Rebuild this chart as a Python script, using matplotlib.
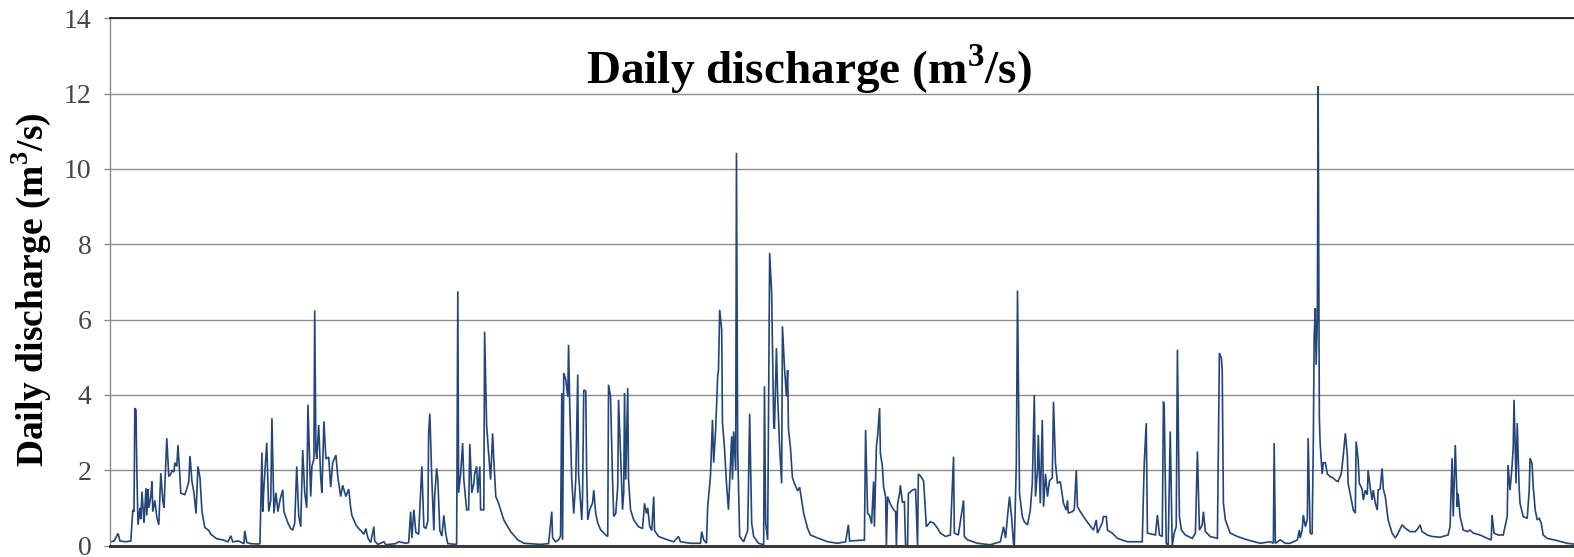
import matplotlib
matplotlib.use("Agg")
import matplotlib.pyplot as plt

SERIF = "Liberation Serif"
LINE_BLUE = "#24457a"
GRID_GREY = "#8c8c8c"

plt.rcParams["mathtext.fontset"] = "custom"
plt.rcParams["mathtext.rm"] = SERIF
plt.rcParams["mathtext.bf"] = SERIF + ":bold"

# day number from start of record and daily discharge (m3/s)
day = [
    2, 10, 20, 25, 40, 52, 57, 60, 62, 65, 67, 70, 75, 77, 80,
    85, 90, 92, 95, 97, 102, 105, 107, 112, 117, 122, 127, 132, 135, 142,
    147, 152, 155, 160, 162, 167, 170, 175, 177, 187, 192, 197, 200, 205, 210,
    215, 220, 225, 230, 237, 247, 252, 267, 282, 295, 302, 307, 322, 335, 337,
    342, 352, 370, 375, 380, 382, 385, 392, 397, 402, 405, 410, 415, 420, 425,
    432, 435, 445, 452, 457, 462, 467, 472, 477, 482, 487, 492, 495, 500, 502,
    505, 510, 512, 515, 517, 522, 527, 530, 535, 540, 547, 552, 557, 565, 570,
    577, 582, 590, 597, 602, 605, 615, 622, 627, 635, 640, 645, 652, 657, 660,
    662, 670, 685, 690, 715, 722, 740, 747, 752, 755, 760, 765, 772, 780, 785,
    790, 795, 797, 800, 805, 810, 812, 817, 820, 825, 830, 835, 840, 845, 865,
    867, 870, 872, 877, 882, 885, 892, 897, 900, 905, 910, 912, 917, 920, 925,
    927, 935, 937, 942, 947, 952, 957, 960, 965, 972, 985, 1002, 1020, 1035, 1077,
    1097, 1105, 1107, 1115, 1122, 1127, 1130, 1132, 1135, 1140, 1145, 1147, 1150, 1155, 1160,
    1165, 1170, 1172, 1180, 1182, 1185, 1190, 1192, 1195, 1200, 1207, 1210, 1215, 1220, 1227,
    1240, 1245, 1247, 1252, 1257, 1260, 1265, 1270, 1272, 1277, 1282, 1285, 1287, 1290, 1295,
    1297, 1302, 1310, 1322, 1332, 1337, 1342, 1345, 1350, 1355, 1360, 1362, 1372, 1395, 1410,
    1422, 1427, 1452, 1477, 1480, 1485, 1492, 1495, 1502, 1507, 1510, 1515, 1520, 1522, 1525,
    1530, 1532, 1537, 1542, 1547, 1555, 1557, 1560, 1565, 1567, 1570, 1575, 1585, 1595, 1597,
    1600, 1605, 1610, 1622, 1635, 1637, 1640, 1645, 1650, 1655, 1660, 1662, 1667, 1670, 1675,
    1680, 1682, 1687, 1692, 1695, 1697, 1702, 1707, 1712, 1720, 1725, 1730, 1735, 1745, 1752,
    1770, 1795, 1820, 1840, 1847, 1850, 1877, 1887, 1890, 1895, 1900, 1905, 1910, 1912, 1917,
    1920, 1925, 1927, 1932, 1935, 1940, 1942, 1945, 1952, 1960, 1965, 1967, 1970, 1975, 1977,
    1982, 1987, 1990, 1995, 1997, 2007, 2015, 2020, 2022, 2027, 2035, 2042, 2052, 2060, 2070,
    2077, 2090, 2102, 2110, 2112, 2122, 2135, 2137, 2145, 2170, 2202, 2227, 2235, 2240, 2245,
    2250, 2255, 2260, 2262, 2267, 2270, 2275, 2282, 2287, 2295, 2302, 2307, 2312, 2315, 2320,
    2322, 2327, 2332, 2335, 2340, 2345, 2350, 2357, 2360, 2365, 2370, 2377, 2385, 2392, 2395,
    2397, 2407, 2412, 2417, 2420, 2427, 2435, 2447, 2460, 2467, 2470, 2482, 2485, 2492, 2495,
    2507, 2520, 2545, 2582, 2587, 2592, 2595, 2615, 2620, 2625, 2632, 2635, 2637, 2642, 2647,
    2652, 2657, 2662, 2667, 2670, 2675, 2680, 2690, 2707, 2715, 2720, 2725, 2732, 2735, 2740,
    2752, 2770, 2775, 2780, 2782, 2785, 2790, 2802, 2820, 2845, 2877, 2902, 2910, 2912, 2915,
    2927, 2940, 2952, 2970, 2975, 2977, 2982, 2985, 2990, 2995, 2997, 3002, 3007, 3010, 3012,
    3015, 3017, 3020, 3022, 3025, 3027, 3032, 3035, 3040, 3045, 3052, 3060, 3067, 3072, 3080,
    3085, 3090, 3095, 3097, 3102, 3110, 3115, 3117, 3122, 3125, 3132, 3135, 3140, 3145, 3147,
    3152, 3157, 3160, 3165, 3170, 3172, 3177, 3182, 3185, 3190, 3197, 3207, 3215, 3222, 3232,
    3240, 3252, 3265, 3272, 3277, 3282, 3295, 3307, 3327, 3347, 3352, 3357, 3360, 3365, 3370,
    3372, 3377, 3385, 3395, 3402, 3410, 3427, 3445, 3455, 3457, 3462, 3472, 3485, 3495, 3497,
    3502, 3507, 3510, 3512, 3517, 3520, 3525, 3527, 3535, 3545, 3550, 3552, 3557, 3560, 3565,
    3570, 3575, 3580, 3585, 3595, 3620, 3645, 3660,
]

discharge = [
    0.10, 0.12, 0.32, 0.12, 0.10, 0.12, 0.94, 0.90, 3.65, 3.60, 2.00, 0.55, 1.00, 0.70, 1.43,
    0.60, 1.52, 0.80, 1.50, 1.00, 1.30, 1.70, 0.90, 1.20, 0.75, 0.55, 1.92, 1.20, 1.00, 2.85,
    1.83, 1.90, 2.00, 1.95, 2.20, 2.10, 2.67, 1.80, 1.39, 1.35, 1.50, 1.70, 2.38, 1.70, 1.40,
    0.85, 2.10, 1.80, 0.90, 0.48, 0.40, 0.30, 0.18, 0.15, 0.10, 0.26, 0.10, 0.12, 0.05, 0.39,
    0.08, 0.05, 0.04, 0.05, 2.47, 0.90, 1.56, 2.73, 0.90, 1.20, 3.38, 0.86, 1.40, 0.90, 1.20,
    1.48, 0.90, 0.60, 0.45, 0.41, 0.60, 2.10, 0.80, 0.50, 2.54, 1.40, 1.00, 3.74, 2.00, 1.30,
    2.10, 2.30, 6.24, 2.50, 2.30, 3.20, 1.80, 1.40, 3.30, 2.30, 2.35, 1.55, 2.20, 2.40, 1.80,
    1.30, 1.60, 1.30, 1.50, 1.00, 0.80, 0.55, 0.45, 0.40, 0.30, 0.45, 0.20, 0.08, 0.35, 0.50,
    0.12, 0.03, 0.10, 0.02, 0.05, 0.10, 0.06, 0.08, 0.90, 0.20, 0.95, 0.35, 0.30, 2.10, 0.50,
    0.45, 0.65, 2.98, 3.50, 1.75, 0.40, 1.30, 2.05, 1.75, 0.40, 0.25, 0.80, 0.30, 0.05, 0.03,
    0.04, 6.75, 1.40, 1.90, 2.72, 1.75, 0.95, 0.95, 2.70, 1.40, 1.65, 1.90, 2.10, 1.40, 2.10,
    0.95, 0.95, 5.68, 3.20, 2.45, 1.75, 2.98, 2.27, 1.30, 1.12, 0.68, 0.37, 0.15, 0.06, 0.03,
    0.05, 0.90, 0.20, 0.10, 0.15, 0.25, 4.05, 0.15, 4.58, 4.40, 3.95, 5.33, 3.70, 1.75, 0.85,
    1.75, 4.54, 1.90, 0.68, 1.30, 4.13, 4.10, 2.10, 0.68, 0.95, 1.13, 1.47, 0.85, 0.60, 0.42,
    0.28, 0.24, 4.27, 3.96, 1.75, 0.77, 0.85, 1.56, 3.87, 2.45, 0.95, 1.40, 4.05, 1.75, 4.18,
    1.75, 0.95, 0.68, 0.50, 0.45, 1.12, 0.85, 1.00, 0.50, 0.40, 1.30, 0.40, 0.24, 0.15, 0.10,
    0.24, 0.10, 0.06, 0.06, 0.37, 0.15, 0.06, 1.03, 1.85, 3.34, 2.20, 3.10, 4.50, 4.66, 6.26,
    5.73, 3.25, 2.60, 1.65, 0.95, 2.90, 1.75, 3.03, 2.00, 10.43, 2.54, 0.24, 0.10, 0.40, 1.57,
    3.50, 0.60, 0.24, 0.06, 0.02, 4.23, 0.60, 0.15, 7.77, 6.70, 3.25, 3.10, 5.24, 3.96, 2.60,
    1.65, 5.82, 4.75, 3.96, 4.66, 3.10, 2.60, 1.80, 1.65, 1.45, 1.55, 1.20, 0.86, 0.45, 0.28,
    0.20, 0.10, 0.06, 0.10, 0.55, 0.12, 0.14, 0.14, 3.07, 0.86, 0.80, 0.58, 1.70, 0.50, 2.63,
    2.90, 3.65, 2.45, 2.10, 1.56, 1.30, 0.00, 1.30, 1.10, 0.95, 0.90, 0.00, 1.10, 1.38, 1.60,
    1.15, 1.16, 0.00, 0.00, 1.38, 1.47, 1.50, 0.00, 1.90, 1.85, 1.72, 0.50, 0.63, 0.60, 0.46,
    0.33, 0.24, 0.28, 2.36, 0.33, 0.28, 1.20, 0.24, 0.15, 0.06, 0.02, 0.10, 0.50, 0.20, 0.77,
    1.30, 0.77, 0.06, 0.00, 2.18, 6.77, 1.38, 0.77, 0.63, 0.55, 0.94, 1.65, 4.00, 1.30, 2.00,
    2.94, 1.12, 3.34, 1.03, 1.90, 1.30, 1.72, 1.80, 3.82, 2.18, 1.65, 1.70, 1.12, 0.94, 1.20,
    0.86, 0.90, 0.95, 2.00, 1.03, 0.90, 0.77, 0.59, 0.41, 0.68, 0.33, 0.60, 0.77, 0.77, 0.41,
    0.33, 0.19, 0.10, 0.10, 2.18, 3.25, 0.33, 0.28, 0.81, 0.28, 0.24, 3.82, 3.69, 0.06, 0.00,
    3.03, 0.00, 0.33, 0.50, 5.20, 0.77, 0.41, 0.28, 0.19, 0.33, 2.50, 0.41, 0.55, 0.90, 0.37,
    0.24, 0.19, 5.11, 4.98, 4.67, 1.12, 0.68, 0.33, 0.24, 0.15, 0.06, 0.10, 0.06, 2.72, 0.06,
    0.15, 0.06, 0.06, 0.15, 0.41, 0.20, 0.41, 0.81, 0.50, 0.70, 2.85, 0.33, 0.30, 2.81, 5.55,
    6.30, 4.80, 6.00, 12.20, 3.40, 2.72, 1.90, 2.20, 2.20, 1.90, 1.83, 1.79, 1.72, 1.70, 1.92,
    2.40, 2.98, 2.40, 1.65, 1.38, 0.94, 0.86, 2.76, 2.30, 1.65, 1.50, 1.21, 1.47, 1.35, 2.00,
    1.56, 1.21, 1.47, 1.12, 0.94, 1.47, 1.50, 2.05, 1.50, 1.30, 0.68, 0.33, 0.20, 0.33, 0.55,
    0.46, 0.37, 0.37, 0.46, 0.55, 0.37, 0.28, 0.24, 0.22, 0.28, 0.50, 2.32, 0.77, 2.67, 1.03,
    1.38, 0.77, 0.41, 0.37, 0.41, 0.33, 0.28, 0.19, 0.15, 0.81, 0.33, 0.28, 0.28, 0.77, 2.14,
    1.47, 2.10, 2.63, 3.87, 1.65, 3.25, 1.47, 1.12, 0.77, 0.72, 1.47, 2.32, 2.18, 1.56, 0.94,
    0.68, 0.72, 0.60, 0.28, 0.19, 0.13, 0.06, 0.04,
]

y_ticks = [0, 2, 4, 6, 8, 10, 12, 14]
title_text = r"Daily discharge (m$^{\mathbf{3}}$/s)"
ylabel_text = r"Daily discharge (m$^{\mathbf{3}}$/s)"

assert len(day) == len(discharge)

fig = plt.figure(figsize=(15.74, 5.57), dpi=100)
ax = fig.add_axes([0.0699, 0.0206, 0.9301, 0.9465])

ax.plot(day, discharge, color=LINE_BLUE, linewidth=1.2, solid_joinstyle="miter")

ax.set_xlim(0, 3662)
ax.set_ylim(0, 14)
ax.set_yticks(y_ticks)
ax.set_xticks([])

# horizontal gridlines only, like a spreadsheet chart
ax.yaxis.grid(True, color=GRID_GREY, linewidth=1.0)
ax.set_axisbelow(True)

ax.spines["top"].set_color("#111111")
ax.spines["top"].set_linewidth(1.2)
ax.spines["right"].set_visible(False)
ax.spines["left"].set_color(GRID_GREY)
ax.spines["left"].set_linewidth(1.0)
ax.spines["bottom"].set_color("#3a3a3a")
ax.spines["bottom"].set_linewidth(2.2)

ax.tick_params(axis="y", length=4, width=1, color=GRID_GREY, pad=9.5,
               labelsize=20, labelcolor="#454545")
for lbl in ax.get_yticklabels():
    lbl.set_family(SERIF)

fig.text(0.514, 0.876, title_text, ha="center", va="center",
         fontsize=34, fontweight="bold", family=SERIF)
fig.text(0.020, 0.479, ylabel_text, ha="center", va="center", rotation=90,
         fontsize=27, fontweight="bold", family=SERIF)

fig.savefig("out.png", dpi=100)
